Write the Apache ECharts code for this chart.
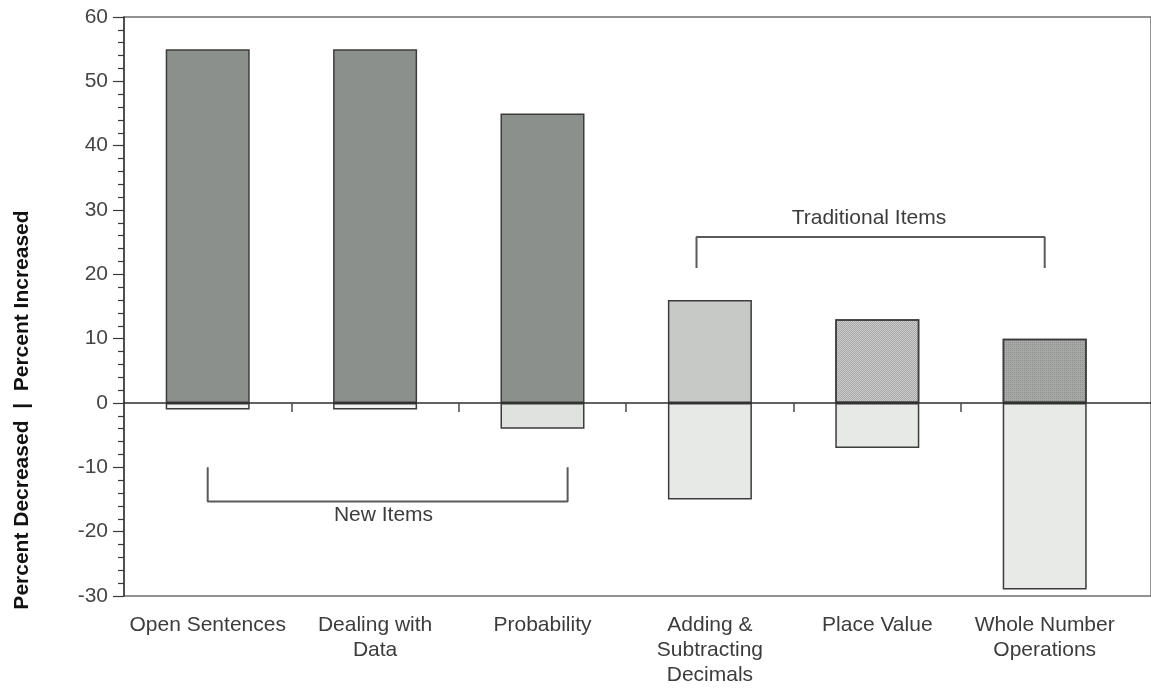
<!DOCTYPE html>
<html>
<head>
<meta charset="utf-8">
<title>Percent Increased and Decreased by Item</title>
<script src="https://cdn.jsdelivr.net/npm/echarts@6/dist/echarts.min.js"></script>
<style>
  html, body { margin: 0; padding: 0; background: #ffffff; }
  #chart { width: 1151px; height: 692px; }
</style>
</head>
<body>
<div id="chart"></div>
<script>
// Item categories along the bottom
const categories = [
  'Open Sentences',
  'Dealing with\nData',
  'Probability',
  'Adding &\nSubtracting\nDecimals',
  'Place Value',
  'Whole Number\nOperations'
];

// Percent of students whose score increased / decreased, per item
const increased = [55, 55, 45, 16, 13, 10];
const decreased = [-1, -1, -4, -15, -7, -29];

// Value axis range
const yMin = -30;
const yMax = 60;
const yStep = 10;

// Group brackets (x in category units, y in percent)
const newItemsBracket = [[0, -10], [0, -15.3], [2.15, -15.3], [2.15, -10]];
const traditionalBracket = [[2.92, 21], [2.92, 25.8], [5, 25.8], [5, 21]];
const groupLabels = [
  [1.05, -17.5, 'New Items'],
  [3.95, 28.8, 'Traditional Items']
];

// Fill styles for each bar
const increasedFills = ['#8c908c', '#8c908c', '#8c908c', '#c7c9c6', '#cbcbcb', '#a6a9a6'];
const decreasedFills = ['#f1f2f1', '#f1f2f1', '#e0e2df', '#e6e9e6', '#e6e9e5', '#e7eae7'];

const positions = categories.map((_, i) => i);
const boundaries = positions.slice(0, -1).map(i => i + 0.5);

// fine textures for the last two "increased" bars
const dottedDecal = {
  symbol: 'rect',
  symbolSize: 1,
  color: 'rgba(90,90,90,0.3)',
  dashArrayX: [[1, 1], [0, 1, 1, 0]],
  dashArrayY: [1, 0],
  rotation: 0
};
const gridDecal = {
  symbol: 'rect',
  symbolSize: 1,
  color: 'rgba(70,70,70,0.25)',
  dashArrayX: [1, 1],
  dashArrayY: [1, 1],
  rotation: 0
};
const decals = [null, null, null, null, dottedDecal, gridDecal];

const barBorder = { borderColor: '#3c3c3c', borderWidth: 1.5 };

const incData = increased.map((v, i) => {
  const style = Object.assign({ color: increasedFills[i] }, barBorder);
  if (decals[i]) style.decal = decals[i];
  return { value: [positions[i], v], itemStyle: style };
});
const decData = decreased.map((v, i) => ({
  value: [positions[i], v],
  itemStyle: Object.assign({ color: decreasedFills[i] }, barBorder)
}));

const textFont = '"Liberation Sans", Arial, sans-serif';

const chart = echarts.init(document.getElementById('chart'), null, { renderer: 'canvas' });

const xMin = -0.5;
const xMax = 5.635;

chart.setOption({
  animation: false,
  backgroundColor: '#ffffff',
  grid: {
    left: 124, right: 0, top: 17, bottom: 96,
    show: true,
    borderColor: '#6e6e6e',
    borderWidth: 1.5,
    backgroundColor: 'transparent'
  },
  xAxis: [
    {
      // category labels under the frame
      type: 'value',
      position: 'bottom',
      min: xMin, max: xMax,
      axisLine: { show: false, onZero: false },
      axisTick: { show: false },
      splitLine: { show: false },
      axisLabel: {
        customValues: positions,
        formatter: v => categories[Math.round(v)],
        fontFamily: textFont,
        fontSize: 21,
        lineHeight: 25,
        color: '#3c3c3c',
        margin: 17,
        verticalAlign: 'top'
      }
    },
    {
      // zero line with separators between items
      type: 'value',
      position: 'top',
      min: xMin, max: xMax,
      z: 5,
      axisLine: { show: true, onZero: true, lineStyle: { color: '#2e2e2e', width: 1.5 } },
      axisTick: {
        show: true,
        inside: true,
        length: 9,
        customValues: boundaries,
        lineStyle: { color: '#4a4a4a', width: 1.5 }
      },
      axisLabel: { show: false },
      splitLine: { show: false }
    }
  ],
  yAxis: {
    type: 'value',
    min: yMin, max: yMax, interval: yStep,
    axisLine: { show: true, onZero: false, lineStyle: { color: '#3a3a3a', width: 1.5 } },
    axisTick: { show: true, length: 11, lineStyle: { color: '#3a3a3a', width: 1.2 } },
    minorTick: { show: true, splitNumber: 5, length: 6, lineStyle: { color: '#3a3a3a', width: 1.2 } },
    splitLine: { show: false },
    axisLabel: {
      fontFamily: textFont,
      fontSize: 21,
      color: '#454545',
      margin: 16
    }
  },
  graphic: [
    {
      type: 'text',
      x: 22,
      y: 410,
      rotation: Math.PI / 2,
      style: {
        text: 'Percent Decreased  |  Percent Increased',
        font: 'bold 21px ' + textFont,
        fill: '#111111',
        align: 'center',
        verticalAlign: 'middle'
      }
    }
  ],
  series: [
    {
      name: 'Percent Decreased',
      type: 'bar',
      xAxisIndex: 0,
      barWidth: 84,
      barGap: '-100%',
      data: decData
    },
    {
      name: 'Percent Increased',
      type: 'bar',
      xAxisIndex: 0,
      barWidth: 84,
      barGap: '-100%',
      data: incData
    },
    {
      name: 'New Items',
      type: 'line',
      xAxisIndex: 0,
      data: newItemsBracket,
      symbol: 'none',
      lineStyle: { color: '#5a5a5a', width: 2 },
      z: 4
    },
    {
      name: 'Traditional Items',
      type: 'line',
      xAxisIndex: 0,
      data: traditionalBracket,
      symbol: 'none',
      lineStyle: { color: '#5a5a5a', width: 2 },
      z: 4
    },
    {
      name: 'Group labels',
      type: 'scatter',
      xAxisIndex: 0,
      data: groupLabels,
      symbolSize: 0,
      itemStyle: { opacity: 1 },
      label: {
        show: true,
        position: 'inside',
        formatter: p => p.value[2],
        fontFamily: textFont,
        fontSize: 21,
        color: '#3c3c3c',
        opacity: 1
      },
      z: 4
    }
  ]
});
</script>
</body>
</html>
